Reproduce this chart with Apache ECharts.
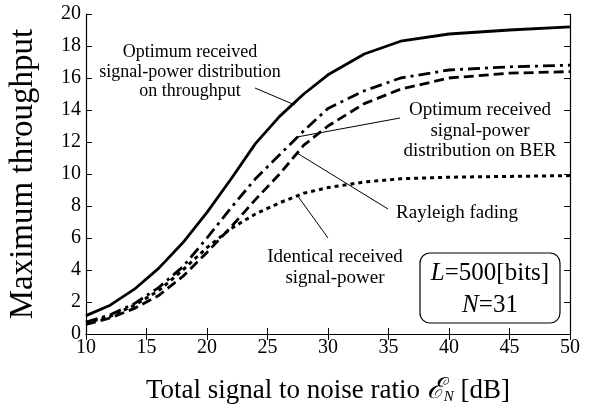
<!DOCTYPE html>
<html>
<head>
<meta charset="utf-8">
<script src="https://cdn.jsdelivr.net/npm/echarts@6/dist/echarts.min.js"></script>
<style>
  html, body { margin: 0; padding: 0; background: #fff; }
  #chart { width: 595px; height: 411px; }
</style>
</head>
<body>
<div id="chart"></div>
<script>
// SNR [dB]
var snr = [10, 12, 14, 16, 18, 20, 22, 24, 26, 28, 30, 33, 36, 40, 45, 50];
// optimum on throughput (solid)
var optThroughput = [1.15, 1.8, 2.8, 4.1, 5.7, 7.6, 9.7, 11.9, 13.6, 15.0, 16.2, 17.5, 18.3, 18.75, 19.0, 19.2];
// optimum on BER (dash-dot)
var optBer = [0.75, 1.2, 1.9, 2.9, 4.2, 6.0, 7.9, 9.7, 11.2, 12.7, 14.1, 15.2, 16.0, 16.5, 16.7, 16.8];
// rayleigh fading (dashed)
var rayleigh = [0.6, 1.0, 1.6, 2.4, 3.6, 5.1, 6.7, 8.4, 10.0, 11.8, 13.0, 14.4, 15.3, 16.0, 16.3, 16.4];
// identical received power (dotted)
var identical = [0.7, 1.1, 1.8, 2.7, 4.0, 5.4, 6.6, 7.5, 8.2, 8.8, 9.15, 9.5, 9.7, 9.8, 9.85, 9.9];

var xTicks = [10, 15, 20, 25, 30, 35, 40, 45, 50];
var yTicks = [0, 2, 4, 6, 8, 10, 12, 14, 16, 18, 20];

function pairs(ys) {
  return snr.map(function (x, i) { return [x, ys[i]]; });
}

var serif = "'Liberation Serif', 'DejaVu Serif', serif";
var chart = echarts.init(document.getElementById("chart"));

var axisLine = { lineStyle: { color: "#000", width: 1.2 } };
var tickIn = { inside: true, length: 6, lineStyle: { color: "#000" } };

function label(x, y, text, size, lh) {
  return {
    type: "text", x: x, y: y,
    style: {
      text: text, font: size + "px " + serif, fill: "#000",
      align: "center", verticalAlign: "middle", lineHeight: lh
    }
  };
}
function leader(x1, y1, x2, y2) {
  return { type: "line", shape: { x1: x1, y1: y1, x2: x2, y2: y2 }, style: { stroke: "#000", lineWidth: 1 } };
}

var option = {
  animation: false,
  backgroundColor: "#fff",
  grid: { left: 86, right: 25, top: 14, bottom: 77, containLabel: false, outerBoundsMode: "none" },
  xAxis: [
    {
      type: "value",
      min: xTicks[0],
      max: xTicks[xTicks.length - 1],
      interval: 5,
      axisLine: axisLine,
      axisTick: tickIn,
      splitLine: { show: false },
      axisLabel: { color: "#000", fontFamily: serif, fontSize: 20, margin: 4 },
      name: "{t|Total signal to noise ratio }{e|ℰ}{s|N}{t| [dB]}",
      nameLocation: "middle",
      nameGap: 42,
      nameTextStyle: {
        rich: {
          t: { fontFamily: serif, fontSize: 27, color: "#000" },
          e: { fontFamily: serif, fontSize: 29, color: "#000", fontStyle: "italic" },
          s: { fontFamily: serif, fontSize: 15, color: "#000", fontStyle: "italic", verticalAlign: "bottom", padding: [10, 0, 0, 0] }
        }
      }
    },
    {
      type: "value",
      position: "top",
      min: xTicks[0],
      max: xTicks[xTicks.length - 1],
      interval: 5,
      axisLine: axisLine,
      axisTick: tickIn,
      axisLabel: { show: false },
      splitLine: { show: false }
    }
  ],
  yAxis: [
    {
      type: "value",
      min: yTicks[0],
      max: yTicks[yTicks.length - 1],
      interval: 2,
      axisLine: axisLine,
      axisTick: tickIn,
      splitLine: { show: false },
      axisLabel: { color: "#000", fontFamily: serif, fontSize: 20, margin: 5 },
      name: "Maximum throughput",
      nameLocation: "middle",
      nameGap: 46,
      nameTextStyle: { fontFamily: serif, fontSize: 33, color: "#000" }
    },
    {
      type: "value",
      position: "right",
      min: yTicks[0],
      max: yTicks[yTicks.length - 1],
      interval: 2,
      axisLine: axisLine,
      axisTick: tickIn,
      axisLabel: { show: false },
      splitLine: { show: false }
    }
  ],
  series: [
    {
      name: "throughput",
      type: "line",
      data: pairs(optThroughput),
      showSymbol: false,
      lineStyle: { color: "#000", width: 2.8, type: "solid" }
    },
    {
      name: "BER",
      type: "line",
      data: pairs(optBer),
      showSymbol: false,
      lineStyle: { color: "#000", width: 2.8, type: [12, 5, 3, 5] }
    },
    {
      name: "Rayleigh",
      type: "line",
      data: pairs(rayleigh),
      showSymbol: false,
      lineStyle: { color: "#000", width: 2.8, type: [10, 5] }
    },
    {
      name: "Identical",
      type: "line",
      data: pairs(identical),
      showSymbol: false,
      lineStyle: { color: "#000", width: 3, type: [4, 4] }
    }
  ],
  graphic: [
    leader(255, 88, 295, 105),
    leader(400, 118, 297, 137),
    leader(388, 209, 297, 153),
    leader(328, 238, 297, 195),
    label(190, 72, "Optimum received\nsignal-power distribution\non throughput", 18, 19.5),
    label(480, 131, "Optimum received\nsignal-power\ndistribution on BER", 19, 20.5),
    label(457, 213, "Rayleigh fading", 19, 20),
    label(335, 268, "Identical received\nsignal-power", 19, 21),
    {
      type: "rect", shape: { x: 420, y: 253, width: 140, height: 70, r: 10 },
      style: { fill: "#fff", stroke: "#000", lineWidth: 1.2 }
    },
    {
      type: "text", x: 490, y: 289, style: {
        text: "{i|L}{n|=500[bits]}\n{i|N}{n|=31}",
        align: "center", verticalAlign: "middle", lineHeight: 32,
        rich: {
          i: { font: "italic 25px " + serif, fill: "#000", lineHeight: 32 },
          n: { font: "25px " + serif, fill: "#000", lineHeight: 32 }
        }
      }
    }
  ]
};

chart.setOption(option);
</script>
</body>
</html>
